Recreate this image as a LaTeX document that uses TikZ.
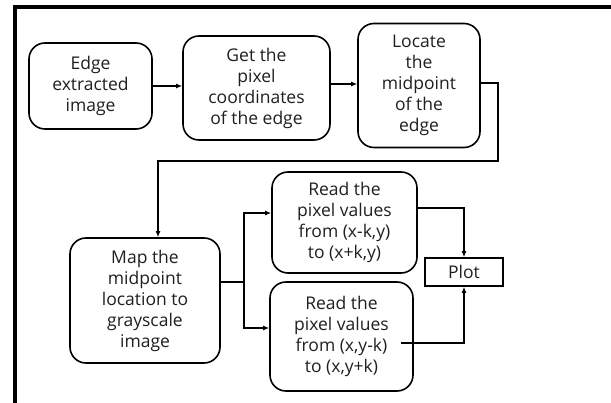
\documentclass[tikz,border=0pt]{standalone}
\usepackage{fontspec}
\setmainfont{Open Sans}
\usetikzlibrary{arrows.meta,calc}
\begin{document}
\begin{tikzpicture}[x=1pt,y=-1pt,
  stepbox/.style={draw=black,line width=1.6pt,rounded corners=16pt,align=center,
    inner sep=0pt,font=\fontsize{17.5}{21}\selectfont,text=black!88},
  plotbox/.style={draw=black,line width=1.6pt,align=center,inner sep=0pt,
    font=\fontsize{17.5}{21}\selectfont,text=black!88},
  arr/.style={line width=1.4pt,-{Latex[length=6pt,width=5pt]}},
  ln/.style={line width=1.4pt}]
\useasboundingbox (0,0) rectangle (611,403);
% outer frame (top and left edges)
\draw[line width=4pt,line join=miter] (611,7) -- (14.5,7) -- (14.5,403);

% process steps
\node[stepbox,minimum width=123pt,minimum height=86pt] (edge) at (90.5,86)
  {Edge\\extracted\\image};
\node[stepbox,minimum width=147pt,minimum height=104pt] (coords) at (256.5,88)
  {Get the\\pixel\\coordinates\\of the edge};
\node[stepbox,minimum width=122pt,minimum height=124pt] (mid) at (419,85.5)
  {Locate\\the\\midpoint\\of the\\edge};
\node[stepbox,minimum width=150pt,minimum height=125pt] (map) at (145,300.5)
  {Map the\\midpoint\\location to\\grayscale\\image};
\node[stepbox,minimum width=145pt,minimum height=101pt] (readx) at (344.5,222.5)
  {Read the\\pixel values\\from (x-k,y)\\to (x+k,y)};
\node[stepbox,minimum width=143pt,minimum height=109pt] (ready) at (341.5,336.5)
  {Read the\\pixel values\\from (x,y-k)\\to (x,y+k)};
\node[plotbox,minimum width=78pt,minimum height=28pt] (plot) at (464,272) {Plot};

% connectors
\coordinate (turn) at (498,161);
\coordinate (split) at (244,282);
\draw[arr] (edge.east) -- (coords.west |- edge.east);
\draw[arr] (coords.east |- 0,84) -- (mid.west |- 0,84);
\draw[arr] (mid.east |- 0,83) -| (turn) -| ($(map.north)+(13,0)$);
\draw[ln] (map.east |- split) -- (split);
\draw[arr] (split) |- ($(readx.west)+(0,-9.5)$);
\draw[arr] (split) |- ($(ready.west)+(0,-8.5)$);
\draw[arr] ($(readx.east)+(0,-14.5)$) -| (plot.north);
\draw[arr] ($(ready.east)+(-13,6.5)$) -| (plot.south);
\end{tikzpicture}
\end{document}
